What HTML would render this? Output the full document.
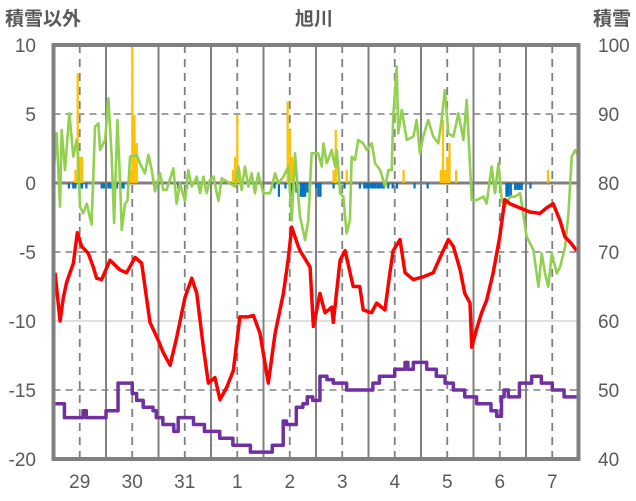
<!DOCTYPE html>
<html><head><meta charset="utf-8"><style>
html,body{margin:0;padding:0;background:#fff;}
svg{display:block;font-family:"Liberation Sans","Noto Sans CJK JP",sans-serif;}
</style></head><body>
<svg id="chart" width="636" height="501" viewBox="0 0 636 501">
<g id="grid"></g>
<g id="bars"></g>
<g id="lines"></g>
<rect x="53.5" y="45" width="525" height="414" fill="none" stroke="#808080" stroke-width="4"/>
<g id="labels" fill="#595959" font-size="19">
<text x="5" y="25" font-weight="bold">積雪以外</text>
<text x="314" y="25" text-anchor="middle" font-weight="bold">旭川</text>
<text x="631" y="25" text-anchor="end" font-weight="bold">積雪</text>
</g>
</svg>
<script>
const leftTicks=[10,5,0,-5,-10,-15,-20];
const rightTicks=[100,90,80,70,60,50,40];
const dayLabels=["29","30","31","1","2","3","4","5","6","7"];
// temperature (hours, values)
const redH=[0.7,3,4.5,6,9.1,10.9,12.9,15.9,18.2,19.7,22,25.8,30.4,33.4,37.3,40.3,41.8,44.1,47.9,50.2,53.3,56.3,60.1,63.2,65.5,68.5,70.8,73.8,76.1,79.2,82.2,85.2,89.1,91.4,94.4,98.2,101.3,105.1,107.4,108.9,111.9,112.7,117.3,118.8,121.8,124.1,127.2,127.9,131,133.3,137,140,141.6,145.4,147.7,151.5,153.8,155.3,158.4,160.7,164.5,169,173.6,176.7,180.5,182.8,185.9,188,190.4,191.2,193.4,195.7,198,201,204,206.3,208.6,213.2,217.8,222.4,225.4,228.4,231.5,233.8,236.8,239.1];
const redV=[-6.5,-10,-8.3,-7.2,-5.8,-3.6,-4.6,-5.1,-6.1,-6.9,-7,-5.6,-6.3,-6.5,-5.4,-5.8,-7.5,-10.1,-11.4,-12.3,-13.2,-11.2,-8.3,-6.9,-8,-11.9,-14.5,-14.1,-15.7,-14.8,-13.6,-9.7,-9.7,-9.6,-10.9,-14.5,-10.9,-8,-5.4,-3.2,-4.6,-4.9,-6.1,-10.4,-8,-9.4,-9,-10.1,-5.6,-4.9,-7.5,-7.5,-9.2,-9.4,-8.7,-9.2,-6.5,-4.9,-4.1,-6.5,-7,-6.8,-6.5,-5.4,-4.1,-4.6,-6.3,-8,-8.7,-11.9,-10.6,-9.4,-8.5,-6.5,-3.9,-1.2,-1.5,-1.8,-2.1,-2.2,-1.8,-1.5,-2.7,-3.9,-4.4,-4.9];
// green series
const greenH=[0,1.45,2.97,3.73,5.26,7.24,9.07,10.6,11.35,12.1,13.6,15.2,17.4,19,20.5,21.3,23.6,25.1,26.6,27.7,29.2,30.4,31.2,32.7,33.8,35,38,39.5,41.8,43.4,44.9,46.4,48.7,50.2,51.7,54.8,56.3,57.8,60.1,61.6,63.2,65.5,67,68.5,70,71.5,73.1,75.4,76.9,83,84.5,86,87.5,89.1,90.6,92.1,93.6,95.9,99,101.3,102.8,105.1,107.4,108.9,110.4,111.9,112.7,115,116.5,118,121,122.6,123.4,124.9,127.2,128.7,129.5,131,132.5,134,135.5,136.3,137.8,139.3,141.6,143.2,145.5,147,149.3,151.6,153.1,154.6,155.3,156.9,157.6,159.2,161.5,164.5,166,167.5,169,171.3,173.6,175.9,177.4,178.9,180.5,182.8,185.1,187.4,188.9,191.2,193.4,196.5,198,200.3,201.8,203.4,204.9,206.4,208.7,211,213.3,216.3,219.4,221.7,223.2,224.7,226.2,227.8,230.1,231.6,233.9,235.4,236.9,238.5,240];
const greenV=[0.7,3.6,-1.72,3.84,0.94,5.05,1.91,3.12,1.67,-1.72,-2.2,-1.5,-3,4.08,4.32,2.39,3.12,6.14,1.91,-2.9,4.57,0.22,-3.4,-1.5,-1.3,1.91,2.03,1.43,0.7,2.03,0.94,-0.6,0.7,-0.5,-0.5,1.06,-1.5,-0.02,-1.3,0.94,-0.26,0.46,-0.74,0.46,-0.74,0.22,0.46,-1.3,0.34,-0.26,1.19,-0.5,1.19,-0.26,0.7,-0.74,0.7,-0.74,-0.74,0.7,-0.02,0.46,1.19,-2.7,2.15,-1,-2.44,-4.13,-2.68,2.15,2.15,1.19,2.87,1.43,2.39,1.19,2.39,-0.74,-0.99,-3.65,-2.68,1.91,1.67,3.12,2.87,2.39,2.87,1.43,0.94,-0.26,0.94,0.94,4.8,8.43,3.6,5.29,3.12,3.36,4.57,2.15,3.36,4.57,3.36,2.87,4.57,6.74,3.6,3.36,5.05,3.12,6.02,-1.24,-1.24,-0.99,-1.48,1.19,-0.74,1.43,-1.24,-1.72,-0.99,-0.99,-0.74,-3.89,-4.86,-7.52,-5.1,-6.55,-7.52,-5.1,-6.55,-6.07,-4.62,-2.2,1.91,2.39,1.91];
// snow depth (right axis), step values
const snowH=[0,5,12,13.5,15,23,24,27,29.5,33.5,36,38,41,45.5,47,50,55,57,62,64,68,69,74.5,76,81.5,82,88,90,99,100,105,106.5,109.5,111,114,116,118.5,121.8,125,127.9,134,143,146,149,156,160.7,162,164.5,170.6,175,179,182.8,188,193.4,200,202.6,204.8,206,207.9,213,218.6,223,228,233.4,240];
const snowV=[48,46,46,47,46,46,47,47,51,51,49.5,48.5,47.5,47,46,45,44,46,46,45,45,44,44,43,43,42,42,41,41,42,45.5,45,45,47.5,48,49,48.5,52,51.5,51,50,50,51,52,53,54,53,54,53,52,51,50,49,48,47,46.2,49,50,49,51,52,51,50,49,48];
// precipitation bars (hour, value)
const precipH=[10,11,12,13,35,36,37,38,82,83,84,85,107,108,109,128,129,134,160,177,178,179,180,181,184,226];
const precipV=[0.94,7.95,1.9,1.9,0.94,10,4.94,2.9,0.94,1.9,4.94,0.94,5.9,3.84,1.9,0.94,3.84,0.94,0.94,0.94,4.57,0.94,1.9,2.9,0.94,0.94];
const negH=[7,9,10,12,13,15,22,23,25,26,28,29,31,32,34,57,61,101,103,106,109,111,114,116,120,113,114,115,121,122,128,133,140,142,143,144,145,146,147,148,149,150,151,153,155,157,165,171,202,207,208,209,211,212,213,214,218];
const negV=[-0.4,-0.4,-0.4,-0.4,-0.4,-0.4,-0.4,-0.4,-0.4,-0.4,-0.4,-0.4,-0.4,-0.4,-0.4,-0.4,-0.4,-0.4,-1,-0.4,-1,-0.7,-1,-0.7,-0.4,-1,-1,-1,-1,-1,-0.4,-0.4,-0.4,-0.4,-0.4,-0.4,-0.4,-0.4,-0.4,-0.4,-0.4,-0.4,-0.4,-0.4,-0.4,-0.4,-0.4,-0.4,-0.7,-1,-1,-1,-0.5,-0.5,-0.5,-0.5,-0.4];

const NS="http://www.w3.org/2000/svg";
const X0=53.5,X1=578.5,Y0=45,Y1=459,HOURS=240;
function xs(h){return X0+(X1-X0)*h/HOURS;}
function yl(v){return Y1-(v+20)/30*(Y1-Y0);}
function yr(v){return Y1-(v-40)/60*(Y1-Y0);}
function mk(tag,attrs,parent){const e=document.createElementNS(NS,tag);for(const k in attrs)e.setAttribute(k,attrs[k]);parent.appendChild(e);return e;}
const grid=document.getElementById('grid'),bars=document.getElementById('bars'),lines=document.getElementById('lines'),labels=document.getElementById('labels');

leftTicks.forEach((t,i)=>{
  const y=yl(t);
  if(t!==10&&t!==-20&&t!==0){
    const l=mk('line',{x1:X0,x2:X1,y1:y,y2:y,stroke:t===-10?'#bfbfbf':'#808080','stroke-width':t===-10?1:1.5,'stroke-dasharray':t===-10?'none':'7,5'},grid);
    
    
  }
  const tx=mk('text',{x:36,y:y+7,'text-anchor':'end'},labels);tx.textContent=String(t);
  
  
});
rightTicks.forEach(t=>{
  const tx=mk('text',{x:598,y:yr(t)+7},labels);tx.textContent=String(t);
  
  
});
dayLabels.forEach((d,i)=>{
  const xb=xs(24*(i+1)),xm=xs(24*i+12);
  if(i<9){const l=mk('line',{x1:xb,x2:xb,y1:Y0,y2:Y1,stroke:'#808080','stroke-width':2},grid);
    
    }
  const dl=mk('line',{x1:xm,x2:xm,y1:Y0,y2:Y1,stroke:'#808080','stroke-width':1.8,'stroke-dasharray':'8,6'},grid);
  
  
  const tx=mk('text',{x:xm,y:488,'text-anchor':'middle'},labels);tx.textContent=d;
  
  
});
precipH.forEach((h,i)=>{
  const y=yl(precipV[i]);
  const r=mk('rect',{x:xs(h)-1,y:y,width:2.2,height:yl(0)-y,fill:'#FFC000'},bars);
  
  
});
negH.forEach((h,i)=>{
  const r=mk('rect',{x:xs(h)-1,y:yl(0),width:2.2,height:yl(negV[i])-yl(0),fill:'#0070C0'},bars);
  
  
});
const zl=mk('line',{x1:X0,x2:X1,y1:yl(0),y2:yl(0),stroke:'#808080','stroke-width':3},grid);


function path(hs,vs,fy,step){
  let d='';
  hs.forEach((h,i)=>{
    const x=xs(h),y=fy(vs[i]);
    if(i===0)d='M'+x+','+y;
    else if(step){d+=' L'+x+','+fy(vs[i-1])+' L'+x+','+y;}
    else d+=' L'+x+','+y;
  });
  return d;
}
const g=mk('path',{d:path(greenH,greenV,yl,false),fill:'none',stroke:'#92D050','stroke-width':2.6,'stroke-linejoin':'round'},lines);


const r=mk('path',{d:path(redH,redV,yl,false),fill:'none',stroke:'#FF0000','stroke-width':3.5,'stroke-linejoin':'round'},lines);


const p=mk('path',{d:path(snowH,snowV,yr,true),fill:'none',stroke:'#7030A0','stroke-width':3.5,'stroke-linejoin':'round'},lines);


</script>
</body></html>
